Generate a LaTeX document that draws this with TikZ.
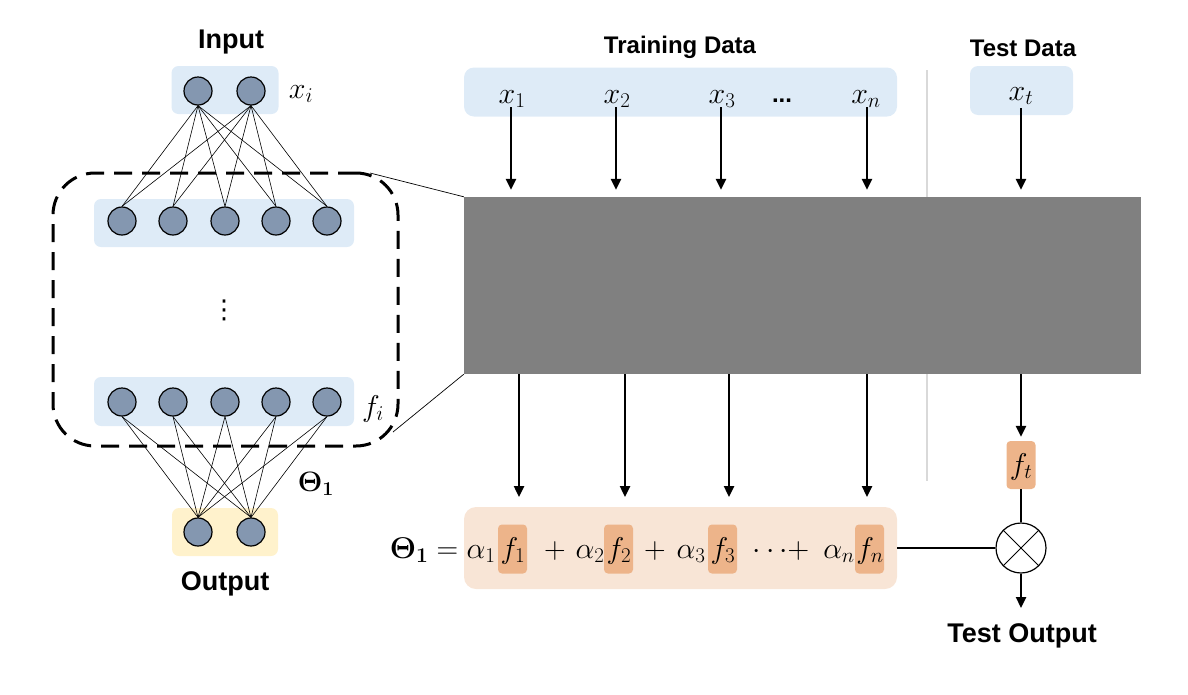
\RequirePackage{fix-cm}
\documentclass[tikz,border=0pt]{standalone}
\usepackage[no-math]{fontspec}
\setmainfont{Liberation Sans}
\newfontfamily\dejavusym{DejaVu Sans}
\usetikzlibrary{arrows.meta}
\definecolor{lblue}{HTML}{DEEBF7}
\definecolor{nodefill}{HTML}{8497B0}
\definecolor{lyellow}{HTML}{FFF2CC}
\definecolor{lorange}{HTML}{F8E5D6}
\definecolor{morange}{HTML}{EDB48A}
\definecolor{sepgray}{HTML}{D9D9D9}
\definecolor{boxgray}{HTML}{808080}
\begin{document}
\begin{tikzpicture}[x=1pt,y=-1pt,
  neuron/.style={circle,draw=black,line width=1.2pt,fill=nodefill,minimum size=28pt,inner sep=0pt},
  layerbox/.style={rectangle,rounded corners=7pt,fill=lblue,inner sep=0pt},
  conn/.style={line width=0.6pt},
  arr/.style={line width=2.4pt,-{Triangle[length=11pt,width=10pt]}},
  biglbl/.style={font=\fontsize{27}{32}\selectfont\bfseries,inner sep=0pt},
  midlbl/.style={font=\fontsize{24}{28}\selectfont\bfseries,inner sep=0pt},
  mathlbl/.style={font=\fontsize{30}{34}\selectfont,inner sep=0pt,anchor=base},
  fmath/.style={font=\fontsize{30}{34}\selectfont,inner sep=0pt,anchor=base},
  fcell/.style={rectangle,rounded corners=4pt,fill=morange,minimum width=29pt,minimum height=49pt,inner sep=0pt},
]
\useasboundingbox (0,0) rectangle (1188,694);

% ---------- left network ----------
\node[biglbl] (inlbl) at (231,42) {Input};
\node[layerbox,minimum width=107pt,minimum height=48pt] (inbox) at (225,90) {};
\node[layerbox,minimum width=260pt,minimum height=48pt] (h1box) at (224,223) {};
\node[layerbox,minimum width=260pt,minimum height=49pt] (h2box) at (224,401.5) {};
\node[layerbox,fill=lyellow,minimum width=106pt,minimum height=48pt] (outbox) at (225,532) {};

\node[draw,dashed,dash pattern=on 18pt off 10pt,line width=3pt,rounded corners=42pt,
      minimum width=345pt,minimum height=273pt,inner sep=0pt] (dbox) at (225.5,309.5) {};

\node[neuron] (in1) at (198,91) {};
\node[neuron] (in2) at (251,91) {};
\foreach \i/\x in {1/122,2/173,3/225,4/276,5/327}{
  \node[neuron] (ha\i) at (\x,221) {};
  \node[neuron] (hb\i) at (\x,402) {};
}
\node[neuron] (out1) at (198,532) {};
\node[neuron] (out2) at (251,532) {};

\foreach \i in {1,...,5}{
  \draw[conn] (in1.south) -- (ha\i.north);
  \draw[conn] (in2.south) -- (ha\i.north);
  \draw[conn] (hb\i.south) -- (out1.north);
  \draw[conn] (hb\i.south) -- (out2.north);
}

\node[mathlbl] (xi) at (301,98) {$x_i$};
\node[mathlbl] (fi) at (373,416) {$f_i$};
\node[mathlbl,font=\fontsize{28}{32}\selectfont] (th1) at (316,491) {$\mathbf{\Theta}_{\mathbf{1}}$};
\node[inner sep=0pt,font=\fontsize{26}{30}\dejavusym] (vd) at (224,310) {⋮};
\node[biglbl] (outlbl) at (225,584) {Output};

% ---------- separator (under the grey block) ----------
\coordinate (septop) at (927,70);
\coordinate (sepbot) at (927,481);
\draw[sepgray,line width=1.5pt] (septop) -- (sepbot);

% ---------- zoom lines and grey block ----------
\node[rectangle,fill=boxgray,minimum width=677pt,minimum height=177pt,inner sep=0pt] (gbox) at (802.5,285.5) {};
\coordinate (zt) at (370,173);
\coordinate (zb) at (393,432);
\draw[line width=0.7pt] (zt) -- (gbox.north west);
\draw[line width=0.7pt] (zb) -- (gbox.south west);

% ---------- training data ----------
\node[midlbl] (trlbl) at (680,47) {Training Data};
\node[layerbox,rounded corners=10pt,minimum width=433pt,minimum height=49pt] (trbox) at (680.5,92) {};
\node[mathlbl] (x1) at (512,103) {$x_1$};
\node[mathlbl] (x2) at (617,103) {$x_2$};
\node[mathlbl] (x3) at (722,103) {$x_3$};
\node[midlbl,anchor=base] (xdots) at (782,102) {...};
\node[mathlbl] (xn) at (866,103) {$x_n$};
\foreach \n/\x in {1/511,2/616,3/721,n/867}{
  \coordinate (ta\n) at (\x,107);
  \draw[arr,shorten >=7pt] (ta\n) -- (ta\n |- gbox.north);
}

% ---------- test data ----------
\node[midlbl] (tslbl) at (1023,48) {Test Data};
\node[layerbox,rounded corners=8pt,minimum width=103pt,minimum height=49pt] (tsbox) at (1021.5,90.5) {};
\node[mathlbl] (xt) at (1021,100) {$x_t$};
\coordinate (tta) at (1021,108);
\draw[arr,shorten >=7pt] (tta) -- (tta |- gbox.north);

% ---------- formula ----------
\node[rectangle,rounded corners=12pt,fill=lorange,minimum width=433pt,minimum height=82pt,inner sep=0pt] (fall) at (680.5,548) {};
\node[fcell] (f1) at (512.5,549) {};
\node[fcell] (f2) at (618.5,549) {};
\node[fcell] (f3) at (722.5,549) {};
\node[fcell] (fn) at (869.5,549) {};
\node[fmath] (th) at (424,558) {$\mathbf{\Theta}_{\mathbf{1}} =$};
\node[fmath] (a1) at (481,558) {$\alpha_1$};
\node[fmath] (t1) at (513,558) {$f_1$};
\node[fmath] (p1) at (555,558) {$+$};
\node[fmath] (a2) at (590,558) {$\alpha_2$};
\node[fmath] (t2) at (619,558) {$f_2$};
\node[fmath] (p2) at (655,558) {$+$};
\node[fmath] (a3) at (691,558) {$\alpha_3$};
\node[fmath] (t3) at (723,558) {$f_3$};
\node[fmath] (p3) at (781,558) {$\cdots\!+$};
\node[fmath] (an) at (839,558) {$\alpha_n$};
\node[fmath] (tn) at (870,558) {$f_n$};

\foreach \n/\x in {1/519,2/625,3/729,n/867}{
  \coordinate (ba\n) at (\x,497);
  \draw[arr] (ba\n |- gbox.south) -- (ba\n);
}

% ---------- test output ----------
\node[fcell,minimum height=48pt] (ft) at (1021,465) {};
\node[fmath] (ftt) at (1021,474) {$f_t$};
\draw[arr,shorten >=4pt] (ft.north |- gbox.south) -- (ft.north);
\node[circle,draw=black,line width=1.2pt,fill=white,minimum size=50pt,inner sep=0pt] (mult) at (1021,548) {};
\draw[line width=1pt] (mult.north west) -- (mult.south east);
\draw[line width=1pt] (mult.north east) -- (mult.south west);
\draw[line width=2.2pt] (ft.south) -- (mult.north);
\draw[line width=2pt] (fall.east) -- (mult.west);
\node[biglbl] (tout) at (1022,636) {Test Output};
\coordinate (toa) at (1021,608);
\draw[arr] (mult.south) -- (toa);
\end{tikzpicture}
\end{document}
